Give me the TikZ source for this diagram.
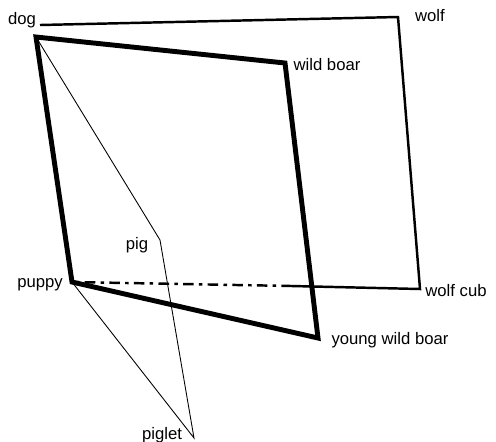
\documentclass[tikz,border=0pt]{standalone}
\usepackage{fontspec}
\setmainfont{Liberation Sans}
\begin{document}
\begin{tikzpicture}[x=0.02cm,y=-0.02cm,font=\fontsize{9.5}{11}\selectfont,lbl/.style={inner sep=0pt},heavy/.style={line width=2.8pt,line join=miter},mid/.style={line width=1.4pt},fine/.style={line width=0.5pt}]
\useasboundingbox (0,0) rectangle (496,441);
% corners
\coordinate (dogA) at (40,25);
\coordinate (dogB) at (36,37);
\coordinate (wolfC) at (398,17);
\coordinate (boarC) at (285,63);
\coordinate (cubC) at (420,289);
\coordinate (youngC) at (318,338);
\coordinate (pupC) at (72,282);
\coordinate (pigC) at (160,240);
\coordinate (pigletC) at (194,438);
\coordinate (gap) at (292,286);
% labels
\node[lbl] (dog) at (22,20) {dog};
\node[lbl] (wolf) at (430,16) {wolf};
\node[lbl] (boar) at (327,65) {wild boar};
\node[lbl] (pig) at (137,245) {pig};
\node[lbl] (puppy) at (40,285) {puppy};
\node[lbl] (cub) at (456,291) {wolf cub};
\node[lbl] (young) at (390,340) {young wild boar};
\node[lbl] (piglet) at (162,435) {piglet};
% wolf frame
\draw[mid] (dogA)--(wolfC)--(cubC)--(gap);
\draw[mid,dash pattern=on 6pt off 3pt on 2pt off 3pt] (gap)--(pupC);
% pig lines
\draw[fine] (dogB)--(pigC)--(pigletC)--(pupC);
% boar frame
\draw[heavy] (dogB)--(boarC)--(youngC)--(pupC)--cycle;
\end{tikzpicture}
\end{document}
